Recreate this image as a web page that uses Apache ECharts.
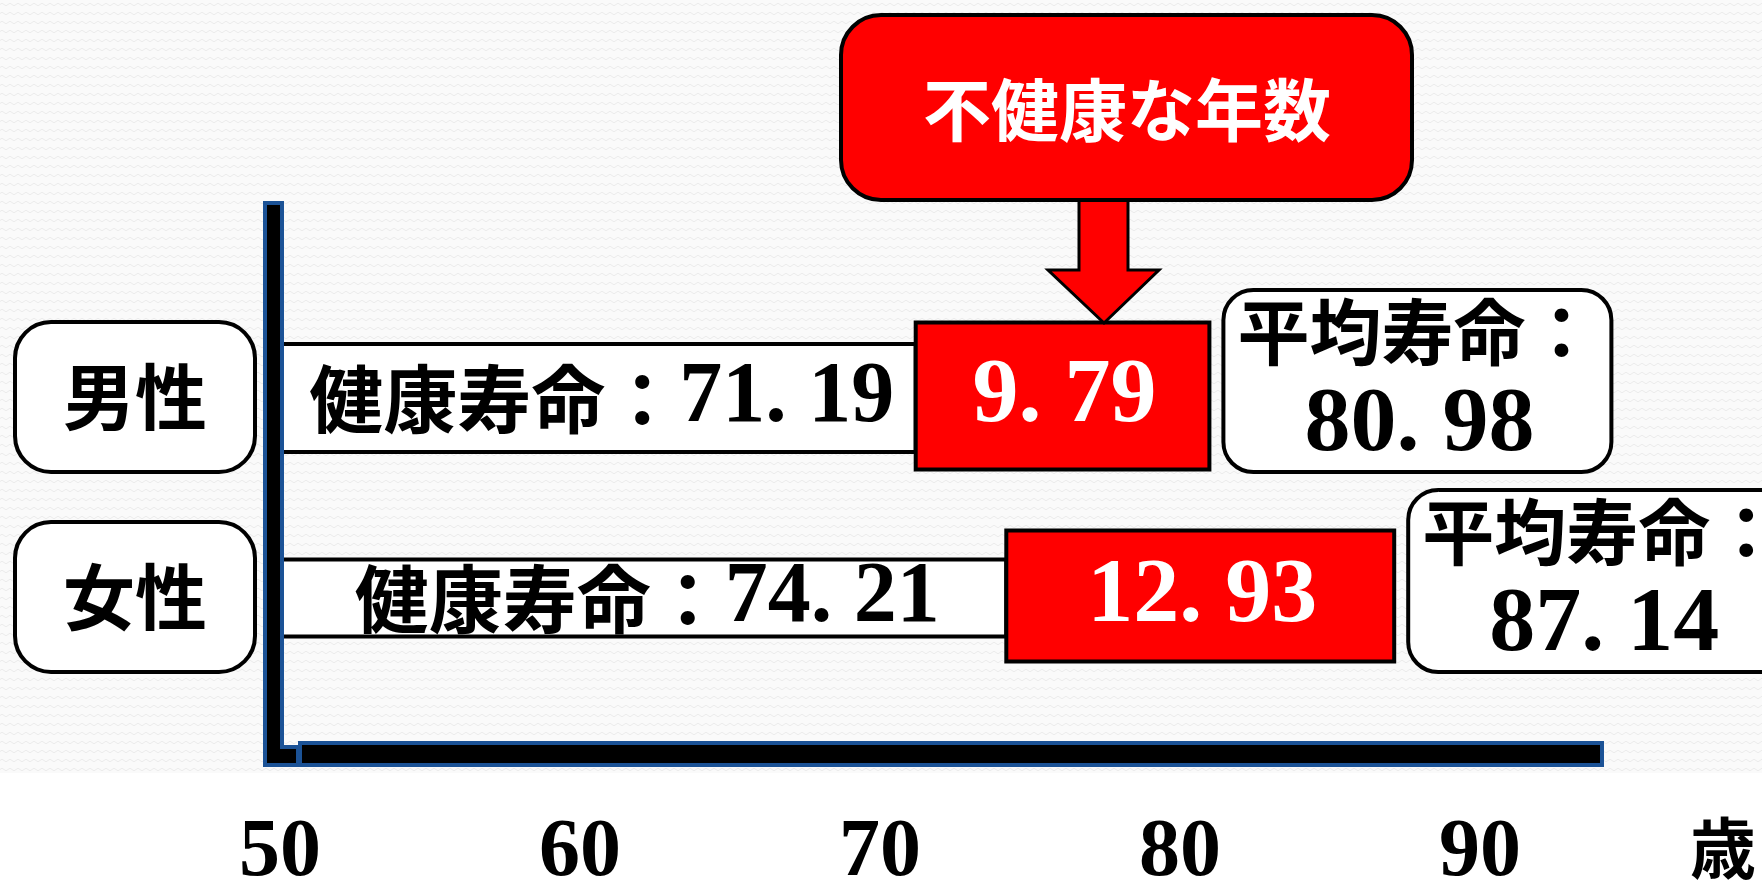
<!DOCTYPE html>
<html>
<head>
<meta charset="utf-8">
<title>健康寿命と平均寿命</title>
<script src="https://cdn.jsdelivr.net/npm/echarts@6/dist/echarts.min.js"></script>
<style>
  html, body { margin: 0; padding: 0; background: #ffffff; }
  #chart { width: 1762px; height: 883px; }
</style>
</head>
<body>
<div id="chart"></div>
<script>
// ---- data ----
const categories = ['男性', '女性'];
const healthyLife = [71.19, 74.21];     // 健康寿命
const unhealthyYears = [9.79, 12.93];   // 不健康な年数
const ageTicks = [50, 60, 70, 80, 90];  // 年齢軸の目盛り
const calloutTitle = '不健康な年数';
const healthyTitle = '健康寿命：';
const lifeTitle = '平均寿命：';
const ageUnit = '歳';

// ---- styles ----
const CJK = "'Noto Sans CJK JP', 'Noto Sans CJK SC', sans-serif";
const NUM = "'Liberation Serif', 'DejaVu Serif', serif";
const RED = '#ff0000';
const AXIS_BLUE = '#1b5296';
const healthyHeights = [108, 77];
const unhealthyHeights = [147, 131];

// 平均寿命 = 健康寿命 + 不健康な年数
const lifeExpectancy = healthyLife.map((h, i) => Math.round((h + unhealthyYears[i]) * 100) / 100);

// "71.19" -> "71. 19" with the wide gap after the decimal point
function numRich(v) {
  const parts = v.toFixed(2).split('.');
  return '{n|' + parts[0] + '}{d|. }{n|' + parts[1] + '}';
}
function numStyles(color, size) {
  return {
    n: { fontFamily: NUM, fontWeight: 'bold', fontSize: size, fill: color, color: color },
    d: { fontFamily: NUM, fontWeight: 'bold', fontSize: size, fill: color, color: color }
  };
}

// wavy texture for the plotting backdrop
const tile = document.createElement('canvas');
tile.width = 8; tile.height = 9;
const tg = tile.getContext('2d');
tg.fillStyle = '#fafafa';
tg.fillRect(0, 0, 8, 9);
tg.strokeStyle = '#ececec';
tg.lineWidth = 1;
tg.beginPath();
tg.moveTo(0, 4.5);
tg.quadraticCurveTo(2, 2, 4, 4.5);
tg.quadraticCurveTo(6, 7, 8, 4.5);
tg.stroke();

const healthyData = categories.map((c, i) => [ageTicks[0], healthyLife[i], i]);
const unhealthyData = categories.map((c, i) => [healthyLife[i], lifeExpectancy[i], i]);
const lifeData = categories.map((c, i) => [lifeExpectancy[i], i]);

function healthyItem(params, api) {
  const i = api.value(2);
  const a = api.coord([api.value(0), i]);
  const b = api.coord([api.value(1), i]);
  const h = healthyHeights[i];
  const rich = Object.assign({ c: { fontFamily: CJK, fontWeight: 'bold', fontSize: 74, fill: '#000' } },
    numStyles('#000', 86));
  return {
    type: 'group',
    children: [
      { type: 'rect', shape: { x: a[0], y: a[1] - h / 2 + 1, width: b[0] - a[0], height: h },
        style: { fill: '#ffffff', stroke: '#000000', lineWidth: 4 } },
      { type: 'text', style: {
          text: '{c|' + healthyTitle + '}' + numRich(healthyLife[i]),
          x: (a[0] + b[0]) / 2 + 4, y: a[1] + 2, align: 'center', verticalAlign: 'middle', rich: rich } }
    ]
  };
}

function unhealthyItem(params, api) {
  const i = api.value(2);
  const a = api.coord([api.value(0), i]);
  const b = api.coord([api.value(1), i]);
  const h = unhealthyHeights[i];
  return {
    type: 'group',
    children: [
      { type: 'rect', shape: { x: a[0], y: a[1] - h / 2 - 1, width: b[0] - a[0], height: h },
        style: { fill: RED, stroke: '#000000', lineWidth: 4 } },
      { type: 'text', style: {
          text: numRich(unhealthyYears[i]),
          x: (a[0] + b[0]) / 2 + 2, y: a[1], align: 'center', verticalAlign: 'middle',
          rich: numStyles('#ffffff', 92) } }
    ]
  };
}

function lifeItem(params, api) {
  const i = api.value(1);
  const p = api.coord([api.value(0), i]);
  const left = p[0] + 14, top = p[1] - 107, w = 388, h = 182;
  return {
    type: 'group',
    children: [
      { type: 'rect', shape: { x: left, y: top, width: w, height: h, r: 30 },
        style: { fill: '#ffffff', stroke: '#000000', lineWidth: 4 } },
      { type: 'text', style: { text: lifeTitle, x: left + w / 2, y: top + 42, align: 'center', verticalAlign: 'middle',
          fontFamily: CJK, fontWeight: 'bold', fontSize: 72, fill: '#000' } },
      { type: 'text', style: { text: numRich(lifeExpectancy[i]), x: left + w / 2 + 2, y: top + 136,
          align: 'center', verticalAlign: 'middle', rich: numStyles('#000', 92) } }
    ]
  };
}

const chart = echarts.init(document.getElementById('chart'), null, { renderer: 'canvas' });

chart.setOption({
  backgroundColor: '#ffffff',
  animation: false,
  grid: { left: 280, right: 282, top: 297, bottom: 186, containLabel: false, outerBoundsMode: 'none' },
  xAxis: {
    type: 'value',
    min: ageTicks[0],
    max: ageTicks[ageTicks.length - 1],
    interval: ageTicks[1] - ageTicks[0],
    axisLine: { show: false },
    axisTick: { show: false },
    splitLine: { show: false },
    axisLabel: {
      showMinLabel: true, showMaxLabel: true,
      margin: 116,
      fontFamily: NUM, fontWeight: 'bold', fontSize: 82, color: '#000'
    }
  },
  yAxis: {
    type: 'category',
    data: categories,
    inverse: true,
    axisLine: { show: false },
    axisTick: { show: false },
    splitLine: { show: false },
    axisLabel: {
      margin: 145,
      align: 'center', verticalAlign: 'middle',
      width: 236, height: 146, lineHeight: 146,
      fontFamily: CJK, fontWeight: 'bold', fontSize: 72, color: '#000',
      backgroundColor: '#ffffff', borderColor: '#000000', borderWidth: 4, borderRadius: 34
    }
  },
  series: [
    { name: '健康寿命', type: 'custom', renderItem: healthyItem, data: healthyData,
      encode: { x: [0, 1], y: 2 }, z: 3 },
    { name: '不健康な年数', type: 'custom', renderItem: unhealthyItem, data: unhealthyData,
      encode: { x: [0, 1], y: 2 }, z: 4 },
    { name: '平均寿命', type: 'custom', renderItem: lifeItem, data: lifeData,
      encode: { x: 0, y: 1 }, z: 5 }
  ],
  graphic: [
    { type: 'rect', z: -100, silent: true, shape: { x: 0, y: 0, width: 1762, height: 773 },
      style: { fill: { image: tile, repeat: 'repeat' } } },
    // vertical axis bar with its foot
    { type: 'polygon', z: 100, silent: true,
      shape: { points: [[265, 203], [282, 203], [282, 747], [298, 747], [298, 765], [265, 765]] },
      style: { fill: '#000000', stroke: AXIS_BLUE, lineWidth: 4 } },
    // horizontal axis bar
    { type: 'rect', z: 100, silent: true, shape: { x: 300, y: 743, width: 1302, height: 22 },
      style: { fill: '#000000', stroke: AXIS_BLUE, lineWidth: 4 } },
    // call-out arrow and box
    { type: 'polygon', z: 100, silent: true,
      shape: { points: [[1079, 196], [1128, 196], [1128, 270], [1159, 270], [1104, 323], [1048, 270], [1079, 270]] },
      style: { fill: RED, stroke: '#000000', lineWidth: 3 } },
    { type: 'rect', z: 101, silent: true, shape: { x: 841, y: 15, width: 571, height: 185, r: 40 },
      style: { fill: RED, stroke: '#000000', lineWidth: 4 } },
    { type: 'text', z: 102, silent: true,
      style: { text: calloutTitle, x: 1127, y: 110, align: 'center', verticalAlign: 'middle',
        fontFamily: CJK, fontWeight: 'bold', fontSize: 68, fill: '#ffffff' } },
    // unit of the age axis
    { type: 'text', z: 100, silent: true,
      style: { text: ageUnit, x: 1723, y: 848, align: 'center', verticalAlign: 'middle',
        fontFamily: CJK, fontWeight: 'bold', fontSize: 66, fill: '#000' } }
  ]
});
</script>
</body>
</html>
